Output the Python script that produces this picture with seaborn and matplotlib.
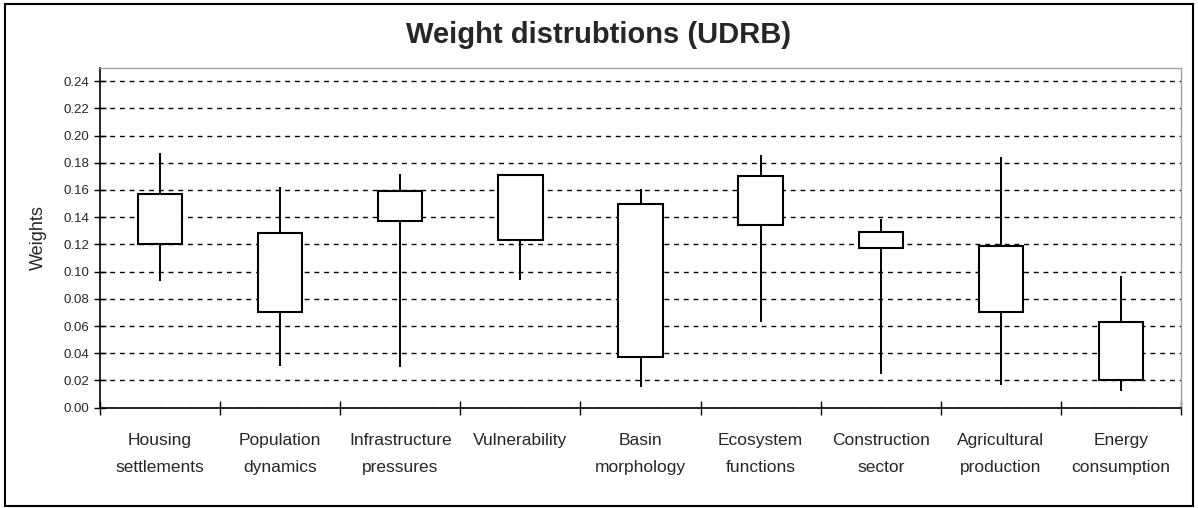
import numpy as np
import pandas as pd
import matplotlib
matplotlib.use("Agg")
import matplotlib.pyplot as plt
import seaborn as sns
from matplotlib.patches import Rectangle

categories = ["Housing\nsettlements", "Population\ndynamics", "Infrastructure\npressures",
              "Vulnerability", "Basin\nmorphology", "Ecosystem\nfunctions",
              "Construction\nsector", "Agricultural\nproduction", "Energy\nconsumption"]
high = [0.187, 0.162, 0.172, 0.172, 0.161, 0.186, 0.139, 0.184, 0.097]
box_top = [0.157, 0.128, 0.159, 0.171, 0.150, 0.170, 0.129, 0.119, 0.063]
box_bottom = [0.120, 0.070, 0.137, 0.123, 0.037, 0.134, 0.117, 0.070, 0.020]
low = [0.093, 0.031, 0.030, 0.094, 0.015, 0.063, 0.025, 0.017, 0.012]
y_ticks = [0.00, 0.02, 0.04, 0.06, 0.08, 0.10, 0.12, 0.14, 0.16, 0.18, 0.20, 0.22, 0.24]

# Build a long table whose quartiles / extremes reproduce each high-low box
rows = []
for c, h, t, b, l in zip(categories, high, box_top, box_bottom, low):
    for v in (l, b, b, t, h):
        rows.append({"category": c, "weight": v})
df = pd.DataFrame(rows)

sns.set_style("white")
plt.rcParams["font.family"] = ["Liberation Sans", "DejaVu Sans"]

fig = plt.figure(figsize=(11.98, 5.08), dpi=100)
ax = fig.add_axes([100 / 1198, 1 - 407.7 / 508, (1181 - 100) / 1198, (407.7 - 68) / 508])

sns.boxplot(data=df, x="category", y="weight", order=categories, ax=ax,
            whis=(0, 100), width=0.37, showcaps=False, showfliers=False,
            linecolor="black", linewidth=1.5, color="white", saturation=1,
            medianprops={"visible": False},
            boxprops={"facecolor": "white", "edgecolor": "black", "zorder": 3},
            whiskerprops={"color": "black", "linewidth": 1.4, "zorder": 3})

ax.set_xlim(-0.5, len(categories) - 0.5)
ax.set_ylim(0, 0.2496)
ax.set_yticks(y_ticks)
ax.set_yticklabels([f"{v:.2f}" for v in y_ticks], fontsize=9.5)
ax.yaxis.grid(True, linestyle=(0, (3.5, 3.5)), color="black", linewidth=1.0)
ax.set_axisbelow(True)
ax.tick_params(axis="y", direction="inout", length=9, width=1, color="black", pad=3, left=True)

ax.set_xticks(np.arange(len(categories)))
ax.set_xticklabels(categories, fontsize=12.5, linespacing=2.05)
ax.set_xticks(np.arange(-0.5, len(categories), 1.0), minor=True)
ax.tick_params(axis="x", which="major", length=0, pad=18)
ax.tick_params(axis="x", which="minor", direction="inout", length=10, width=1, color="black", bottom=True)

ax.set_xlabel("")
ax.set_ylabel("Weights", fontsize=13, labelpad=12)

for side in ("left", "bottom"):
    ax.spines[side].set_color("black")
    ax.spines[side].set_linewidth(1.2)
for side in ("top", "right"):
    ax.spines[side].set_visible(True)
    ax.spines[side].set_color("#a0a0a0")
    ax.spines[side].set_linewidth(1.0)

fig.text(0.5, 1 - 35 / 508, "Weight distrubtions (UDRB)", ha="center", va="center",
         fontsize=21, fontweight="bold")

fig.patches.append(Rectangle((5 / 1198, 1 - 506 / 508), 1188 / 1198, 502 / 508,
                             transform=fig.transFigure, fill=False,
                             edgecolor="black", linewidth=1.5))

fig.savefig("out.png", dpi=100, facecolor="white")
